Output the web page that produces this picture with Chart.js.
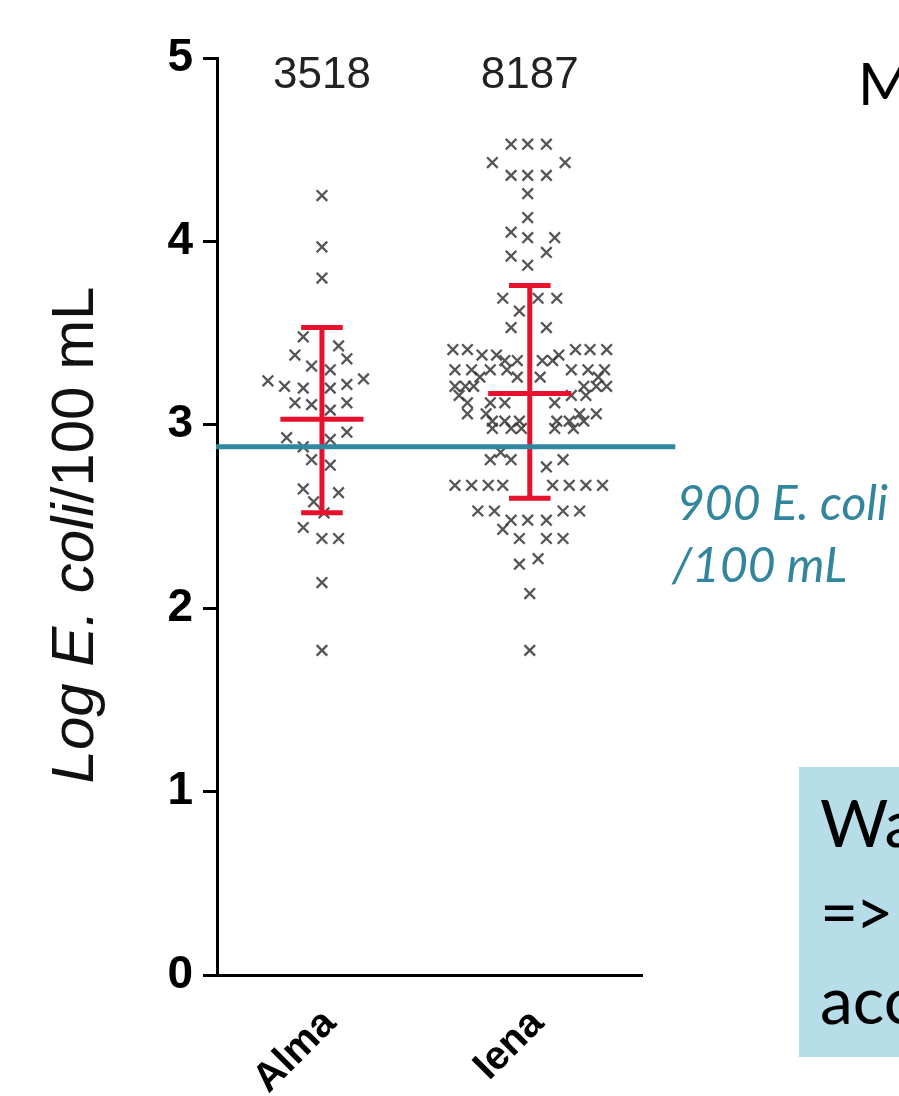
<!DOCTYPE html>
<html>
<head>
<meta charset="utf-8">
<script src="https://cdn.jsdelivr.net/npm/chart.js@4.4.1/dist/chart.umd.min.js"></script>
<style>
  body { margin: 0; background: #fff; }
  #wrap { position: relative; width: 899px; height: 1096px; overflow: hidden; }
  #wrap canvas { position: absolute; left: 0; top: 0; }
  .slide { position: absolute; font-family: 'Lato', sans-serif; line-height: 1; white-space: nowrap; }
  #ytitle {
    position: absolute; left: -227px; top: 500px; width: 600px; height: 70px;
    line-height: 70px; text-align: center; transform: rotate(-90deg);
    font-family: 'Liberation Sans', Arial, sans-serif; font-size: 60px; color: #111;
  }
  .note { color: #31859c; font-style: italic; font-size: 48px; }
  #box { position: absolute; left: 799px; top: 767px; width: 100px; height: 290px; background: #b7dee8; overflow: hidden; }
  #box .slide { font-size: 66px; color: #000; }
</style>
</head>
<body>
<div id="wrap">
  <canvas id="chart" width="899" height="1096"></canvas>
  <div id="ytitle"><i>Log E. coli</i>/100 mL</div>
  <div class="slide" style="left:858px; top:54px; font-size:58px;">M</div>
  <div class="slide note" style="left:677px; top:478px;">900 E. coli</div>
  <div class="slide note" style="left:672px; top:540px;">/100 mL</div>
  <div id="box">
    <div class="slide" style="left:21px; top:22px;">Wa</div>
    <div class="slide" style="left:21px; top:111px; letter-spacing:-3px;">=&gt;</div>
    <div class="slide" style="left:21px; top:199px;">acc</div>
  </div>
</div>
<script>
// groups and summary stats
const categories = ['Alma', 'Iena'];
const sampleCounts = [3518, 8187];
const groupMeans = [3.03, 3.17];
const sdLower = [2.52, 2.60];
const sdUpper = [3.53, 3.76];
const thresholdLog = 2.88;
const yTicks = [0, 1, 2, 3, 4, 5];

// Alma: log values and horizontal scatter offset (in category widths)
const almaValues = [4.25, 3.97, 3.80,
  3.48, 3.43, 3.38, 3.36, 3.32, 3.30,
  3.24, 3.21, 3.20, 3.20, 3.22, 3.25,
  3.12, 3.11, 3.12, 3.08,
  2.93, 2.96, 2.92, 2.88, 2.81, 2.78,
  2.65, 2.63, 2.58, 2.52,
  2.44, 2.38, 2.38, 2.14, 1.77];
const almaOffsets = [0, 0, 0,
  -0.09, 0.08, -0.13, 0.12, -0.05, 0.04,
  -0.26, -0.18, -0.09, 0.04, 0.12, 0.20,
  -0.13, -0.05, 0.12, 0.04,
  -0.17, 0.12, 0.04, -0.09, -0.05, 0.04,
  -0.09, 0.08, -0.04, 0.01,
  -0.09, 0, 0.08, 0, 0];

// Iena
const ienaValues = [
  4.53, 4.53, 4.53, 4.43, 4.43, 4.36, 4.36, 4.36, 4.26, 4.13,
  4.05, 4.02, 4.02, 3.94, 3.92, 3.87, 3.69, 3.69, 3.69, 3.62, 3.53, 3.53,
  3.41, 3.41, 3.41, 3.41, 3.41,
  3.38, 3.38, 3.38,
  3.35, 3.35, 3.35, 3.35,
  3.30, 3.30, 3.30, 3.30, 3.30, 3.30, 3.30,
  3.26, 3.26, 3.26, 3.26,
  3.21, 3.21, 3.21, 3.21, 3.21, 3.21,
  3.16, 3.16, 3.16,
  3.12, 3.12, 3.12, 3.12,
  3.06, 3.06, 3.06, 3.06,
  3.02, 3.02, 3.02, 3.02, 3.02, 3.02,
  2.98, 2.98, 2.98, 2.98, 2.98,
  2.85, 2.81, 2.81, 2.81, 2.77,
  2.67, 2.67, 2.67, 2.67, 2.67, 2.67, 2.67, 2.67,
  2.53, 2.53, 2.53, 2.53,
  2.48, 2.48, 2.48, 2.43,
  2.38, 2.38, 2.38, 2.27, 2.24, 2.08, 1.77];
const ienaOffsets = [
  -0.09, -0.01, 0.08, -0.18, 0.17, -0.09, -0.01, 0.08, -0.01, -0.01,
  -0.09, -0.01, 0.12, 0.08, -0.09, -0.01, -0.13, 0.04, 0.13, -0.05, -0.09, 0.08,
  -0.37, -0.30, 0.22, 0.29, 0.37,
  -0.23, -0.16, 0.14,
  -0.12, -0.06, 0.06, 0.11,
  -0.36, -0.28, -0.19, -0.11, 0.20, 0.28, 0.36,
  -0.24, -0.06, 0.05, 0.33,
  -0.36, -0.31, -0.27, 0.26, 0.32, 0.37,
  -0.34, 0.20, 0.27,
  -0.30, -0.19, -0.12, 0.12,
  -0.30, -0.21, 0.24, 0.32,
  -0.18, -0.12, -0.05, 0.13, 0.19, 0.26,
  -0.18, -0.09, -0.04, 0.12, 0.21,
  -0.14, -0.19, -0.09, 0.16, 0.08,
  -0.36, -0.28, -0.20, -0.13, 0.11, 0.19, 0.27, 0.35,
  -0.25, -0.17, 0.16, 0.24,
  -0.09, -0.01, 0.08, -0.13,
  -0.05, 0.08, 0.16, 0.04, -0.05, 0, 0];

const axisFont = "'Liberation Sans', Arial, sans-serif";

function toPoints(offsets, values, idx) {
  return values.map((v, i) => ({ x: idx + 1 + offsets[i], y: v }));
}

// mean/SD bars, limit line and n labels
const overlay = {
  id: 'overlay',
  afterDatasetsDraw(chart) {
    const { ctx, chartArea, scales: { x, y } } = chart;
    ctx.save();
    ctx.strokeStyle = '#e8112d';
    ctx.lineWidth = 5;
    categories.forEach((c, i) => {
      const cx = x.getPixelForValue(i + 1);
      const capW = x.getPixelForValue(i + 1.1) - cx;
      const meanW = x.getPixelForValue(i + 1.2) - cx;
      const yTop = y.getPixelForValue(sdUpper[i]);
      const yBot = y.getPixelForValue(sdLower[i]);
      const yMean = y.getPixelForValue(groupMeans[i]);
      ctx.beginPath();
      ctx.moveTo(cx, yTop); ctx.lineTo(cx, yBot);
      ctx.moveTo(cx - capW, yTop); ctx.lineTo(cx + capW, yTop);
      ctx.moveTo(cx - capW, yBot); ctx.lineTo(cx + capW, yBot);
      ctx.moveTo(cx - meanW, yMean); ctx.lineTo(cx + meanW, yMean);
      ctx.stroke();
    });

    const ly = y.getPixelForValue(thresholdLog);
    ctx.strokeStyle = '#2f87a0';
    ctx.lineWidth = 5;
    ctx.beginPath();
    ctx.moveTo(chartArea.left - 1, ly);
    ctx.lineTo(x.getPixelForValue(2.70), ly);
    ctx.stroke();

    ctx.fillStyle = '#222';
    ctx.font = '44px ' + axisFont;
    ctx.textAlign = 'center';
    ctx.textBaseline = 'middle';
    categories.forEach((c, i) => {
      ctx.fillText(String(sampleCounts[i]), x.getPixelForValue(i + 1), chartArea.top + 18);
    });
    ctx.restore();
  }
};

const markerStyle = {
  type: 'scatter',
  pointStyle: 'crossRot',
  pointRadius: 7.5,
  borderWidth: 2.3,
  borderColor: 'rgba(55,55,55,0.85)',
  backgroundColor: 'rgba(55,55,55,0.85)'
};

new Chart(document.getElementById('chart'), {
  type: 'scatter',
  data: {
    datasets: [
      Object.assign({ label: categories[0], data: toPoints(almaOffsets, almaValues, 0) }, markerStyle),
      Object.assign({ label: categories[1], data: toPoints(ienaOffsets, ienaValues, 1) }, markerStyle)
    ]
  },
  options: {
    responsive: false,
    animation: false,
    devicePixelRatio: 1,
    layout: { padding: { left: 0, top: 58, right: 257, bottom: 0 } },
    plugins: { legend: { display: false }, tooltip: { enabled: false } },
    scales: {
      x: {
        type: 'linear',
        min: 0.495,
        max: 2.54,
        afterBuildTicks: s => { s.ticks = categories.map((c, i) => ({ value: i + 1 })); },
        afterFit: s => { s.height = 121; },
        grid: { display: false, drawTicks: false },
        border: { display: true, color: '#000', width: 3 },
        ticks: {
          autoSkip: false, minRotation: 45, maxRotation: 45, padding: 25, labelOffset: 8,
          color: '#000', font: { family: axisFont, size: 40, weight: 'bold' },
          callback: v => categories[Math.round(v) - 1]
        }
      },
      y: {
        min: 0,
        max: 5,
        afterBuildTicks: s => { s.ticks = yTicks.map(v => ({ value: v })); },
        afterFit: s => { s.width = 217; },
        grid: { drawOnChartArea: false, color: '#000', lineWidth: 3, tickLength: 14 },
        border: { color: '#000', width: 3 },
        ticks: { padding: 10, color: '#000', font: { family: axisFont, size: 46, weight: 'bold' } }
      }
    }
  },
  plugins: [overlay]
});
</script>
</body>
</html>
